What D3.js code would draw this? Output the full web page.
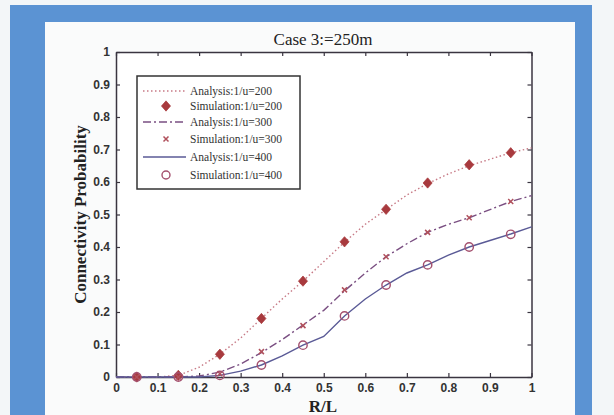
<!DOCTYPE html>
<html><head><meta charset="utf-8">
<script src="https://cdn.jsdelivr.net/npm/d3@7"></script>
<style>body{margin:0;background:#f4f7f9;}svg{display:block;}</style>
</head><body>
<svg id="c" width="614" height="415"></svg>
<script>
const xGrid = [0,0.05,0.1,0.15,0.2,0.25,0.3,0.35,0.4,0.45,0.5,0.55,0.6,0.65,0.7,0.75,0.8,0.85,0.9,0.95,1];
const analysis200 = [0,0,0,0.005,0.03,0.07,0.12,0.18,0.24,0.295,0.355,0.415,0.47,0.515,0.56,0.595,0.625,0.65,0.67,0.69,0.705];
const analysis300 = [0,0,0,0,0.003,0.015,0.04,0.075,0.115,0.16,0.205,0.265,0.32,0.37,0.41,0.445,0.47,0.49,0.515,0.54,0.558];
const analysis400 = [0,0,0,0,0,0.005,0.018,0.037,0.065,0.098,0.125,0.188,0.24,0.283,0.32,0.345,0.375,0.40,0.42,0.44,0.462];
const simX = [0.05,0.15,0.25,0.35,0.45,0.55,0.65,0.75,0.85,0.95];
const sim200 = [0,0.005,0.07,0.18,0.295,0.416,0.516,0.597,0.653,0.69];
const sim300 = [0,0,0.01,0.078,0.158,0.268,0.37,0.445,0.49,0.54];
const sim400 = [0,0,0.005,0.037,0.098,0.188,0.283,0.345,0.40,0.439];
const xTicks = [0,0.1,0.2,0.3,0.4,0.5,0.6,0.7,0.8,0.9,1];
const yTicks = [0,0.1,0.2,0.3,0.4,0.5,0.6,0.7,0.8,0.9,1];
const legendLabels = ["Analysis:1/u=200","Simulation:1/u=200","Analysis:1/u=300","Simulation:1/u=300","Analysis:1/u=400","Simulation:1/u=400"];
const titleText = "Case 3:=250m";

const svg = d3.select("#c");
// frame
svg.append("rect").attr("x",0).attr("y",0).attr("width",614).attr("height",415).attr("fill","#f3f6f8");
svg.append("rect").attr("x",10).attr("y",5).attr("width",582).attr("height",415).attr("fill","#5b93d3");
svg.append("rect").attr("x",45).attr("y",22).attr("width",530).attr("height",400).attr("fill","#fafbfb");

const L=116, R=531.5, T=52, B=377;
const x = d3.scaleLinear().domain([0,1]).range([L,R]);
const y = d3.scaleLinear().domain([0,1]).range([B,T]);
svg.append("rect").attr("x",L).attr("y",T).attr("width",R-L).attr("height",B-T).attr("fill","#ffffff");

const axColor="#3a3540";
const tickFont = "bold 12px 'Liberation Sans', Arial, sans-serif";
const gx = svg.append("g").attr("transform",`translate(0,${B})`)
  .call(d3.axisBottom(x).tickValues(xTicks).tickFormat(d3.format("")).tickSizeInner(-4).tickSizeOuter(0).tickPadding(6));
const gy = svg.append("g").attr("transform",`translate(${L},0)`)
  .call(d3.axisLeft(y).tickValues(yTicks).tickFormat(d3.format("")).tickSizeInner(-4).tickSizeOuter(0).tickPadding(6));
const gx2 = svg.append("g").attr("transform",`translate(0,${T})`)
  .call(d3.axisTop(x).tickValues(xTicks).tickFormat("").tickSizeInner(-4).tickSizeOuter(0));
const gy2 = svg.append("g").attr("transform",`translate(${R},0)`)
  .call(d3.axisRight(y).tickValues(yTicks).tickFormat("").tickSizeInner(-4).tickSizeOuter(0));
[gx,gy,gx2,gy2].forEach(g=>{
  g.select(".domain").attr("stroke",axColor).attr("stroke-width",1.5);
  g.selectAll(".tick line").attr("stroke",axColor).attr("stroke-width",1.2);
  g.selectAll(".tick text").attr("fill","#333").style("font",tickFont);
});

const line = d3.line().x((d,i)=>x(xGrid[i])).y(d=>y(d));
svg.append("path").datum(analysis200).attr("d",line).attr("fill","none")
  .attr("stroke","#c77a86").attr("stroke-width",1.4).attr("stroke-dasharray","1.5,2.5");
svg.append("path").datum(analysis300).attr("d",line).attr("fill","none")
  .attr("stroke","#7a4f82").attr("stroke-width",1.4).attr("stroke-dasharray","8,3,2,3");
svg.append("path").datum(analysis400).attr("d",line).attr("fill","none")
  .attr("stroke","#5a5a96").attr("stroke-width",1.4);

const diamond = d3.symbol().type(d3.symbolDiamond).size(34);
const xsym = d3.symbol().type(d3.symbolX).size(18);
svg.append("g").selectAll("path").data(sim200).join("path")
  .attr("transform",(d,i)=>`translate(${x(simX[i])},${y(d)}) scale(1.45,0.95)`).attr("d",diamond)
  .attr("fill","#a83a3e").attr("stroke","#a83a3e").attr("stroke-width",0.6).attr("stroke-linejoin","round");
svg.append("g").selectAll("path").data(sim300).join("path")
  .attr("transform",(d,i)=>`translate(${x(simX[i])},${y(d)})`).attr("d",xsym)
  .attr("fill","none").attr("stroke","#b0505c").attr("stroke-width",1.5);
svg.append("g").selectAll("circle").data(sim400).join("circle")
  .attr("cx",(d,i)=>x(simX[i])).attr("cy",d=>y(d)).attr("r",4.2)
  .attr("fill","none").attr("stroke","#a4506e").attr("stroke-width",1.4);

// legend
const lg = svg.append("g");
lg.append("rect").attr("x",137).attr("y",76).attr("width",163).attr("height",113)
  .attr("fill","#fff").attr("stroke","#333").attr("stroke-width",1.5);
const rowY = [91,106,122,139,157,175];
const styles = [
  {type:"line",color:"#c77a86",dash:"1.5,2.5"},
  {type:"diamond"},
  {type:"line",color:"#7a4f82",dash:"8,3,2,3"},
  {type:"x"},
  {type:"line",color:"#5a5a96",dash:null},
  {type:"circle"}];
legendLabels.forEach((t,i)=>{
  const yy=rowY[i], s=styles[i];
  if(s.type==="line"){
    lg.append("line").attr("x1",143).attr("x2",186).attr("y1",yy).attr("y2",yy)
      .attr("stroke",s.color).attr("stroke-width",1.4).attr("stroke-dasharray",s.dash);
  } else if(s.type==="diamond"){
    lg.append("path").attr("transform",`translate(166,${yy}) scale(1.45,0.95)`).attr("d",diamond)
      .attr("fill","#a83a3e").attr("stroke","#a83a3e").attr("stroke-width",0.6);
  } else if(s.type==="x"){
    lg.append("path").attr("transform",`translate(166,${yy})`).attr("d",xsym)
      .attr("fill","none").attr("stroke","#b0505c").attr("stroke-width",1.5);
  } else {
    lg.append("circle").attr("cx",166).attr("cy",yy).attr("r",4).attr("fill","none").attr("stroke","#a4506e").attr("stroke-width",1.4);
  }
  lg.append("text").attr("x",190).attr("y",yy+4).text(t)
    .style("font","11.5px 'Liberation Serif', 'Times New Roman', serif").attr("fill","#333");
});

svg.append("text").attr("x",323).attr("y",45).attr("text-anchor","middle").text(titleText)
  .style("font","17px 'Liberation Serif', 'Times New Roman', serif").attr("fill","#222");
svg.append("text").attr("x",323).attr("y",412).attr("text-anchor","middle").text("R/L")
  .style("font","bold 17px 'Liberation Serif', 'Times New Roman', serif").attr("fill","#222");
svg.append("text").attr("transform",`translate(86,${(T+B)/2}) rotate(-90)`).attr("text-anchor","middle")
  .text("Connectivity Probability")
  .style("font","bold 17px 'Liberation Serif', 'Times New Roman', serif").attr("fill","#222");
</script>
</body></html>
